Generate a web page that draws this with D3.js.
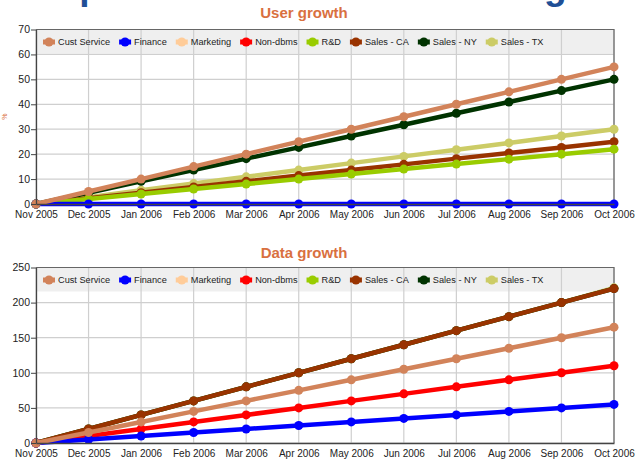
<!DOCTYPE html>
<html>
<head>
<meta charset="utf-8">
<script src="https://cdn.jsdelivr.net/npm/d3@7"></script>
<style>
  body { margin: 0; background: #fff; }
  svg { display: block; font-family: "Liberation Sans", Arial, sans-serif; }
</style>
</head>
<body>
<div id="chart"></div>
<script>
// months on the x axis
var months = ["Nov 2005", "Dec 2005", "Jan 2006", "Feb 2006", "Mar 2006", "Apr 2006",
              "May 2006", "Jun 2006", "Jul 2006", "Aug 2006", "Sep 2006", "Oct 2006"];

var seriesNames = ["Cust Service", "Finance", "Marketing", "Non-dbms", "R&D", "Sales - CA", "Sales - NY", "Sales - TX"];
var seriesColors = ["#d2835a", "#0000ff", "#ffcc99", "#ff0000", "#99cc00", "#993300", "#003300", "#cccc66"];

// User growth
var userCustService = [0, 5, 10, 15, 20, 25, 30, 35, 40, 45, 50, 55];
var userFinance     = [0, 0, 0, 0, 0, 0, 0, 0, 0, 0, 0, 0];
var userMarketing   = null;
var userNonDbms     = null;
var userRnD         = [0, 2, 4, 6, 8, 10, 12, 14, 16, 18, 20, 22];
var userSalesCA     = [0, 2.3, 4.5, 6.8, 9.1, 11.4, 13.6, 15.9, 18.2, 20.5, 22.7, 25];
var userSalesNY     = [0, 4.5, 9.1, 13.6, 18.2, 22.7, 27.3, 31.8, 36.4, 40.9, 45.5, 50];
var userSalesTX     = [0, 2.7, 5.5, 8.2, 10.9, 13.6, 16.4, 19.1, 21.8, 24.5, 27.3, 30];

// Data growth
var dataCustService = [0, 15, 30, 45, 60, 75, 90, 105, 120, 135, 150, 165];
var dataFinance     = [0, 5, 10, 15, 20, 25, 30, 35, 40, 45, 50, 55];
var dataMarketing   = null;
var dataNonDbms     = [0, 10, 20, 30, 40, 50, 60, 70, 80, 90, 100, 110];
var dataRnD         = null;
var dataSalesCA     = [0, 20, 40, 60, 80, 100, 120, 140, 160, 180, 200, 220];
var dataSalesNY     = [0, 20, 40, 60, 80, 100, 120, 140, 160, 180, 200, 220];
var dataSalesTX     = [0, 20, 40, 60, 80, 100, 120, 140, 160, 180, 200, 221];

var userTicks = [0, 10, 20, 30, 40, 50, 60, 70];
var dataTicks = [0, 50, 100, 150, 200, 250];

var W = 635, H = 461;
var svg = d3.select("#chart").append("svg")
    .attr("width", W)
    .attr("height", H);

// big slide heading, mostly cut off at the top
svg.append("text")
    .attr("x", 34)
    .attr("y", -1)
    .style("font-size", "37px")
    .style("font-weight", "bold")
    .style("fill", "#1f4f96")
    .text("Expected user and database growth");

function drawChart(cfg) {
    var g = svg.append("g");
    var x = d3.scalePoint().domain(months).range([36, 614]);
    var y = d3.scaleLinear().domain([0, cfg.ticks[cfg.ticks.length - 1]]).range([cfg.bottom, cfg.top]);

    // title
    g.append("text")
        .attr("x", 304)
        .attr("y", cfg.titleY)
        .attr("text-anchor", "middle")
        .style("font-size", "15px")
        .style("font-weight", "bold")
        .style("fill", "#d9703f")
        .text(cfg.title);

    // legend background
    g.append("rect")
        .attr("x", 36)
        .attr("y", cfg.top)
        .attr("width", 578)
        .attr("height", 24)
        .style("fill", "#efefef");

    // grid
    g.append("g").selectAll("line.h")
        .data(cfg.ticks)
        .enter().append("line")
        .attr("x1", 36).attr("x2", 614)
        .attr("y1", function(d) { return y(d); })
        .attr("y2", function(d) { return y(d); })
        .style("stroke", "#cfcfcf")
        .style("stroke-width", 1.2);
    g.append("g").selectAll("line.v")
        .data(months)
        .enter().append("line")
        .attr("x1", function(d) { return x(d); })
        .attr("x2", function(d) { return x(d); })
        .attr("y1", cfg.top).attr("y2", cfg.bottom)
        .style("stroke", "#cfcfcf")
        .style("stroke-width", 1.2);

    // frame top/right
    g.append("path")
        .attr("d", "M36," + cfg.top + "H614V" + cfg.bottom)
        .style("fill", "none")
        .style("stroke", "#666")
        .style("stroke-width", 1.2);

    // legend
    var lx = 43;
    seriesNames.forEach(function(name, i) {
        var item = g.append("g").attr("transform", "translate(" + lx + "," + cfg.legendY + ")");
        item.append("line")
            .attr("x1", 0).attr("x2", 12)
            .style("stroke", seriesColors[i])
            .style("stroke-width", 5);
        item.append("circle")
            .attr("cx", 6).attr("r", 4.5)
            .style("fill", seriesColors[i]);
        var t = item.append("text")
            .attr("x", 15)
            .attr("dy", "0.35em")
            .style("font-size", "9.2px")
            .style("fill", "#222")
            .text(name);
        lx += 15 + t.node().getComputedTextLength() + 9;
    });

    // series, last one drawn first
    var line = d3.line()
        .x(function(d, i) { return x(months[i]); })
        .y(function(d) { return y(d); });
    for (var i = seriesNames.length - 1; i >= 0; i--) {
        var vals = cfg.series[i];
        if (!vals) continue;
        var sg = g.append("g");
        sg.append("path")
            .attr("d", line(vals))
            .style("fill", "none")
            .style("stroke", seriesColors[i])
            .style("stroke-width", 4.5)
            .style("stroke-linejoin", "round");
        sg.selectAll("circle")
            .data(vals)
            .enter().append("circle")
            .attr("cx", function(d, j) { return x(months[j]); })
            .attr("cy", function(d) { return y(d); })
            .attr("r", 4.5)
            .style("fill", seriesColors[i]);
    }

    // axes
    var ya = g.append("g")
        .attr("transform", "translate(36,0)")
        .call(d3.axisLeft(y).tickValues(cfg.ticks).tickSize(5).tickSizeOuter(0).tickPadding(1));
    ya.select(".domain").style("stroke", "#444").style("stroke-width", 1.3);
    ya.selectAll(".tick line").style("stroke", "#444");
    ya.selectAll("text").style("font-size", "10.5px").style("fill", "#222").style("font-family", "Liberation Sans, Arial, sans-serif");

    var xa = g.append("g")
        .attr("transform", "translate(0," + cfg.bottom + ")")
        .call(d3.axisBottom(x).tickSize(0).tickPadding(7));
    xa.select(".domain").style("stroke", "#444").style("stroke-width", 1.3);
    xa.selectAll("text").style("font-size", "10px").style("fill", "#222").style("font-family", "Liberation Sans, Arial, sans-serif");

    if (cfg.unit) {
        g.append("text")
            .attr("transform", "translate(7," + ((cfg.top + cfg.bottom) / 2) + ") rotate(-90)")
            .attr("text-anchor", "middle")
            .style("font-size", "7px")
            .style("fill", "#d9703f")
            .text(cfg.unit);
    }
}

drawChart({
    title: "User growth", titleY: 18, top: 29.5, bottom: 204, legendY: 42,
    ticks: userTicks, unit: "%",
    series: [userCustService, userFinance, userMarketing, userNonDbms, userRnD, userSalesCA, userSalesNY, userSalesTX]
});

drawChart({
    title: "Data growth", titleY: 258, top: 267.5, bottom: 443, legendY: 280,
    ticks: dataTicks, unit: null,
    series: [dataCustService, dataFinance, dataMarketing, dataNonDbms, dataRnD, dataSalesCA, dataSalesNY, dataSalesTX]
});
</script>
</body>
</html>
